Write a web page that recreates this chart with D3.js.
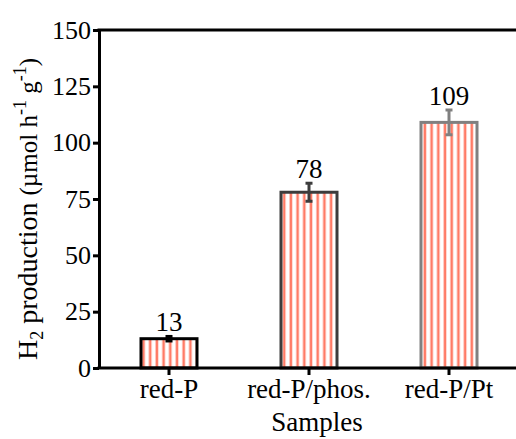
<!DOCTYPE html>
<html>
<head>
<meta charset="utf-8">
<script src="https://cdn.jsdelivr.net/npm/d3@7"></script>
<style>
  html, body { margin: 0; padding: 0; background: #fff; }
  svg { display: block; }
  svg text { font-family: "Liberation Serif", "Times New Roman", serif; fill: #000; }
</style>
</head>
<body>
<svg id="chart" width="516" height="439"></svg>
<script>
// Hydrogen evolution rate per sample
const categories = ["red-P", "red-P/phos.", "red-P/Pt"];
const values = [13, 78, 109];
const errors = [1, 4, 5.5];
const outlineColors = ["#000000", "#3c3c3c", "#808080"];
const yTicks = [0, 25, 50, 75, 100, 125, 150];

const svg = d3.select("#chart");
const margin = { left: 99, top: 30, bottom: 368 };

const x = d3.scaleBand()
  .domain(categories)
  .range([margin.left, margin.left + 140 * categories.length])
  .paddingInner(0).paddingOuter(0);
const barW = x.bandwidth() * 0.4;

const y = d3.scaleLinear().domain([0, 150]).range([margin.bottom, margin.top]);

// striped fill
const defs = svg.append("defs");
const pat = defs.append("pattern")
  .attr("id", "stripes")
  .attr("patternUnits", "userSpaceOnUse")
  .attr("width", 6.7).attr("height", 10);
pat.append("rect").attr("width", 6.7).attr("height", 10).attr("fill", "#fff");
pat.append("rect").attr("x", 1.5).attr("width", 2.6).attr("height", 10).attr("fill", "#ff7b66");

// bars
svg.append("g").selectAll("rect")
  .data(categories)
  .join("rect")
  .attr("x", d => x(d) + x.bandwidth() / 2 - barW / 2)
  .attr("y", (d, i) => y(values[i]))
  .attr("width", barW)
  .attr("height", (d, i) => y(0) - y(values[i]))
  .attr("fill", "url(#stripes)")
  .attr("stroke", (d, i) => outlineColors[i])
  .attr("stroke-width", 3);

// error bars
const eb = svg.append("g").selectAll("g")
  .data(categories)
  .join("g")
  .attr("stroke", (d, i) => outlineColors[i])
  .attr("stroke-width", 3);
eb.append("line")
  .attr("x1", d => x(d) + x.bandwidth() / 2)
  .attr("x2", d => x(d) + x.bandwidth() / 2)
  .attr("y1", (d, i) => y(values[i] - errors[i]))
  .attr("y2", (d, i) => y(values[i] + errors[i]));
[1, -1].forEach(s => {
  eb.append("line")
    .attr("x1", d => x(d) + x.bandwidth() / 2 - 3.5)
    .attr("x2", d => x(d) + x.bandwidth() / 2 + 3.5)
    .attr("y1", (d, i) => y(values[i] + s * errors[i]))
    .attr("y2", (d, i) => y(values[i] + s * errors[i]));
});

// value labels
svg.append("g").selectAll("text")
  .data(categories)
  .join("text")
  .attr("x", d => x(d) + x.bandwidth() / 2)
  .attr("y", (d, i) => y(values[i] + errors[i]) - 5)
  .attr("text-anchor", "middle")
  .style("font-size", "27px")
  .text((d, i) => values[i]);

// top frame line (runs past the right edge)
svg.append("line")
  .attr("x1", margin.left - 1.5).attr("x2", 520)
  .attr("y1", margin.top).attr("y2", margin.top)
  .attr("stroke", "#000").attr("stroke-width", 3);

// y axis
const yAxis = svg.append("g")
  .attr("transform", `translate(${margin.left},0)`)
  .call(d3.axisLeft(y).tickValues(yTicks).tickSize(6).tickSizeOuter(0).tickPadding(2));
yAxis.attr("font-family", null).attr("font-size", null);
yAxis.select(".domain").attr("stroke-width", 3);
yAxis.selectAll(".tick line").attr("stroke-width", 3);
yAxis.selectAll(".tick text").style("font-size", "26px");

// x axis
const xAxis = svg.append("g")
  .attr("transform", `translate(0,${margin.bottom})`)
  .call(d3.axisBottom(x).tickSize(7).tickSizeOuter(0).tickPadding(4));
xAxis.attr("font-family", null).attr("font-size", null);
xAxis.select(".domain").attr("stroke-width", 3)
  .attr("d", `M${margin.left - 1.5},0H520`);
xAxis.selectAll(".tick line").attr("stroke-width", 3);
xAxis.selectAll(".tick text").style("font-size", "27px");

// axis titles
svg.append("text")
  .attr("x", x(categories[1]) + x.bandwidth() / 2 + 8)
  .attr("y", 431)
  .attr("text-anchor", "middle")
  .style("font-size", "27px")
  .text("Samples");

const yt = svg.append("text")
  .attr("transform", `translate(37,${(margin.top + margin.bottom) / 2 + 10}) rotate(-90)`)
  .attr("text-anchor", "middle")
  .style("font-size", "28px");
yt.append("tspan").text("H");
yt.append("tspan").style("font-size", "18px").attr("dy", 6).text("2");
yt.append("tspan").attr("dy", -6).text(" production ");
yt.append("tspan").style("font-size", "25px").text("(µmol h");
yt.append("tspan").style("font-size", "18px").attr("dy", -11).text("-1");
yt.append("tspan").style("font-size", "25px").attr("dy", 11).text(" g");
yt.append("tspan").style("font-size", "18px").attr("dy", -11).text("-1");
yt.append("tspan").style("font-size", "25px").attr("dy", 11).text(")");
</script>
</body>
</html>
